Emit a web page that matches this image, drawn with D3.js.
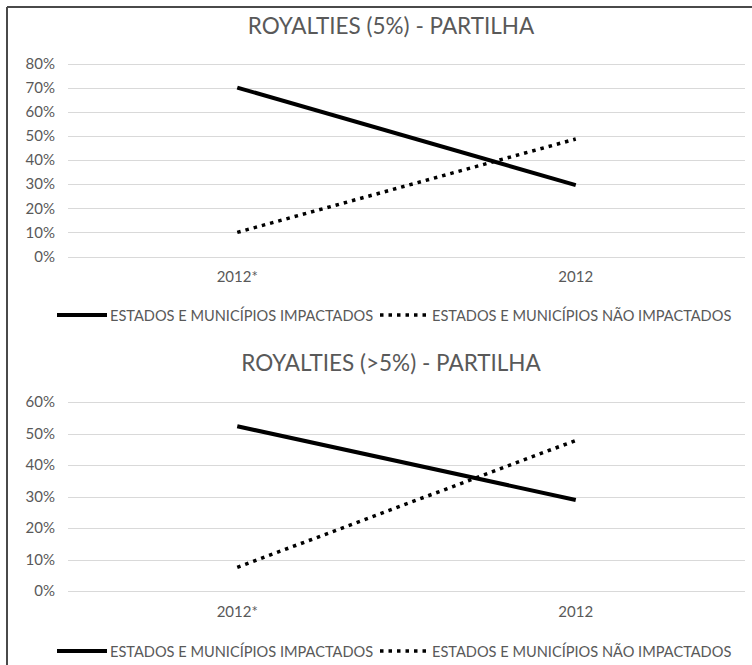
<!DOCTYPE html>
<html>
<head>
<meta charset="utf-8">
<script src="https://cdn.jsdelivr.net/npm/d3@7"></script>
<style>
  html, body { margin: 0; padding: 0; background: #fff; }
  svg { display: block; }
  text { font-family: Lato, "Open Sans", sans-serif; fill: #595959; }
</style>
</head>
<body>
<svg id="chart" width="752" height="665"></svg>
<script>
// Categories and series (shares of the distribution)
const categories = ["2012*", "2012"];
const seriesNames = ["ESTADOS E MUNICÍPIOS IMPACTADOS", "ESTADOS E MUNICÍPIOS NÃO IMPACTADOS"];

const impactados5 = [0.70, 0.296];
const naoImpactados5 = [0.10, 0.487];

const impactadosAcima5 = [0.523, 0.289];
const naoImpactadosAcima5 = [0.075, 0.478];

const ticks5 = [0, 0.1, 0.2, 0.3, 0.4, 0.5, 0.6, 0.7, 0.8];
const ticksAcima5 = [0, 0.1, 0.2, 0.3, 0.4, 0.5, 0.6];

const titles = ["ROYALTIES (5%) - PARTILHA", "ROYALTIES (>5%) - PARTILHA"];

const svg = d3.select("#chart");

// Frame lines on the left and top edges
svg.append("line").attr("x1", 7).attr("x2", 7).attr("y1", 7).attr("y2", 665)
  .attr("stroke", "#4a4a4a").attr("stroke-width", 2);
svg.append("line").attr("x1", 7).attr("x2", 752).attr("y1", 7).attr("y2", 7)
  .attr("stroke", "#4a4a4a").attr("stroke-width", 2);

const dotted = "3.5 5";

function drawPanel(cfg) {
  const g = svg.append("g");
  const x = d3.scaleBand().domain(categories).range([68, 745]);
  const y = d3.scaleLinear().domain([0, d3.max(cfg.ticks)]).range([cfg.y0, cfg.yTop]);

  // Title
  g.append("text")
    .attr("x", 391).attr("y", cfg.titleY)
    .attr("text-anchor", "middle")
    .attr("font-size", 22.5)
    .text(cfg.title);

  // Gridlines
  g.append("g").selectAll("line").data(cfg.ticks).join("line")
    .attr("x1", 68).attr("x2", 745)
    .attr("y1", d => Math.round(y(d)) + 0.5).attr("y2", d => Math.round(y(d)) + 0.5)
    .attr("stroke", "#d9d9d9").attr("stroke-width", 1);

  // Y axis labels
  const yAxis = d3.axisLeft(y).tickValues(cfg.ticks).tickFormat(d3.format(".0%")).tickSize(0).tickPadding(0);
  const ya = g.append("g").attr("transform", "translate(55,0)").call(yAxis);
  ya.select(".domain").remove();
  ya.selectAll("text").attr("font-size", 15).attr("font-family", "Lato, sans-serif").attr("fill", "#595959");

  // X axis labels
  const xAxis = d3.axisBottom(x).tickSize(0).tickPadding(0);
  const xa = g.append("g").attr("transform", `translate(0,${cfg.xLabelY})`).call(xAxis);
  xa.select(".domain").remove();
  xa.selectAll("text").attr("font-size", 15).attr("font-family", "Lato, sans-serif").attr("fill", "#595959");

  const line = d3.line().x((d, i) => x(categories[i]) + x.bandwidth() / 2).y(d => y(d));

  g.append("path").datum(cfg.a).attr("d", line)
    .attr("fill", "none").attr("stroke", "#000").attr("stroke-width", 4);
  g.append("path").datum(cfg.b).attr("d", line)
    .attr("fill", "none").attr("stroke", "#000").attr("stroke-width", 3.5)
    .attr("stroke-dasharray", dotted);

  // Legend
  const ly = cfg.legendY;
  g.append("line").attr("x1", 57).attr("x2", 107).attr("y1", ly).attr("y2", ly)
    .attr("stroke", "#000").attr("stroke-width", 4);
  g.append("text").attr("x", 110).attr("y", ly + 5.5).attr("font-size", 14.6).text(seriesNames[0]);
  g.append("line").attr("x1", 380).attr("x2", 427).attr("y1", ly).attr("y2", ly)
    .attr("stroke", "#000").attr("stroke-width", 3.5).attr("stroke-dasharray", dotted);
  g.append("text").attr("x", 432).attr("y", ly + 5.5).attr("font-size", 14.6).text(seriesNames[1]);
}

drawPanel({
  title: titles[0], titleY: 34, ticks: ticks5, y0: 256.5, yTop: 63.5,
  xLabelY: 271, a: impactados5, b: naoImpactados5, legendY: 315
});
drawPanel({
  title: titles[1], titleY: 371, ticks: ticksAcima5, y0: 591, yTop: 402,
  xLabelY: 606, a: impactadosAcima5, b: naoImpactadosAcima5, legendY: 651
});
</script>
</body>
</html>
